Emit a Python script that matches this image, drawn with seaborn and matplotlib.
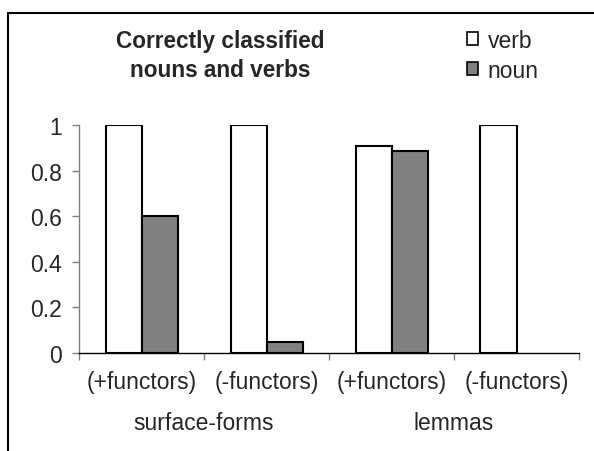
import matplotlib
matplotlib.use("Agg")
import matplotlib.pyplot as plt
import matplotlib.ticker as mticker
from matplotlib.patches import Rectangle
import seaborn as sns
import pandas as pd

categories = ["(+functors)", "(-functors)", "(+functors)", "(-functors)"]
groups = ["surface-forms", "lemmas"]
series = ["verb", "noun"]
verb_values = [1.0, 1.0, 0.91, 1.0]
noun_values = [0.6, 0.05, 0.885, 0.0]
yticks = [0, 0.2, 0.4, 0.6, 0.8, 1]
title = "Correctly classified\nnouns and verbs"

sns.set_style("white")
plt.rcParams["font.family"] = ["Liberation Sans", "DejaVu Sans"]
FS = 16.5
plt.rcParams["font.size"] = FS

ids = [f"c{i}" for i in range(len(categories))]
df = pd.DataFrame({
    "cat": ids * 2,
    "pos": ["verb"] * 4 + ["noun"] * 4,
    "value": verb_values + noun_values,
})

W, H = 594, 452
fig = plt.figure(figsize=(W / 100, H / 100), dpi=100)
ax = fig.add_axes([79 / W, 1 - 354 / H, 500 / W, 228 / H])

sns.barplot(data=df, x="cat", y="value", hue="pos", order=ids, hue_order=series,
            palette={"verb": "white", "noun": "#808080"}, edgecolor="black",
            linewidth=1.5, width=0.576, gap=0, ax=ax, errorbar=None)

# Excel draws nothing for a zero-height bar
for p in ax.patches:
    if abs(p.get_height()) < 1e-9:
        p.set_linewidth(0)

ax.set_xlim(-0.5, 3.5)
ax.set_ylim(0, 1)
ax.set_yticks(yticks)
ax.yaxis.set_major_formatter(mticker.FuncFormatter(lambda v, p: f"{v:g}"))
ax.set_xticks(range(4))
ax.set_xticklabels(categories)
ax.set_xticks([-0.5, 0.5, 1.5, 2.5, 3.5], minor=True)
ax.tick_params(axis="x", which="major", length=0, pad=12, labelsize=FS)
ax.tick_params(axis="x", which="minor", length=5, width=1, color="#808080", direction="out", bottom=True)
ax.tick_params(axis="y", length=5, width=1, color="#808080", direction="out", pad=7, labelsize=FS, left=True)
ax.set_xlabel("")
ax.set_ylabel("")
for s in ["top", "right"]:
    ax.spines[s].set_visible(False)
ax.spines["left"].set_color("#808080")
ax.spines["left"].set_linewidth(1)
ax.spines["bottom"].set_color("black")
ax.spines["bottom"].set_linewidth(1)

trans = ax.get_xaxis_transform()
ax.text(0.5, (354 - 424) / 228, groups[0], transform=trans, ha="center", va="center", fontsize=FS)
ax.text(2.5, (354 - 424) / 228, groups[1], transform=trans, ha="center", va="center", fontsize=FS)

sns.move_legend(ax, loc="upper left", bbox_to_anchor=(467 / W, 1 - 30 / H),
                bbox_transform=fig.transFigure, frameon=False, title=None,
                handlelength=0.5, handleheight=0.5, handletextpad=0.4,
                labelspacing=0.3, borderpad=0, borderaxespad=0, fontsize=FS)
for h in ax.get_legend().legend_handles:
    h.set_linewidth(1.2)

fig.text(220 / W, 1 - 56 / H, title, ha="center", va="center", fontsize=16.3,
         fontweight="bold", linespacing=1.3)

fig.patches.append(Rectangle((8 / W, -0.1), 1.2, 1 - 14 / H + 0.1, transform=fig.transFigure,
                             fill=False, edgecolor="black", linewidth=1.5))

fig.savefig("out.png", dpi=100)
